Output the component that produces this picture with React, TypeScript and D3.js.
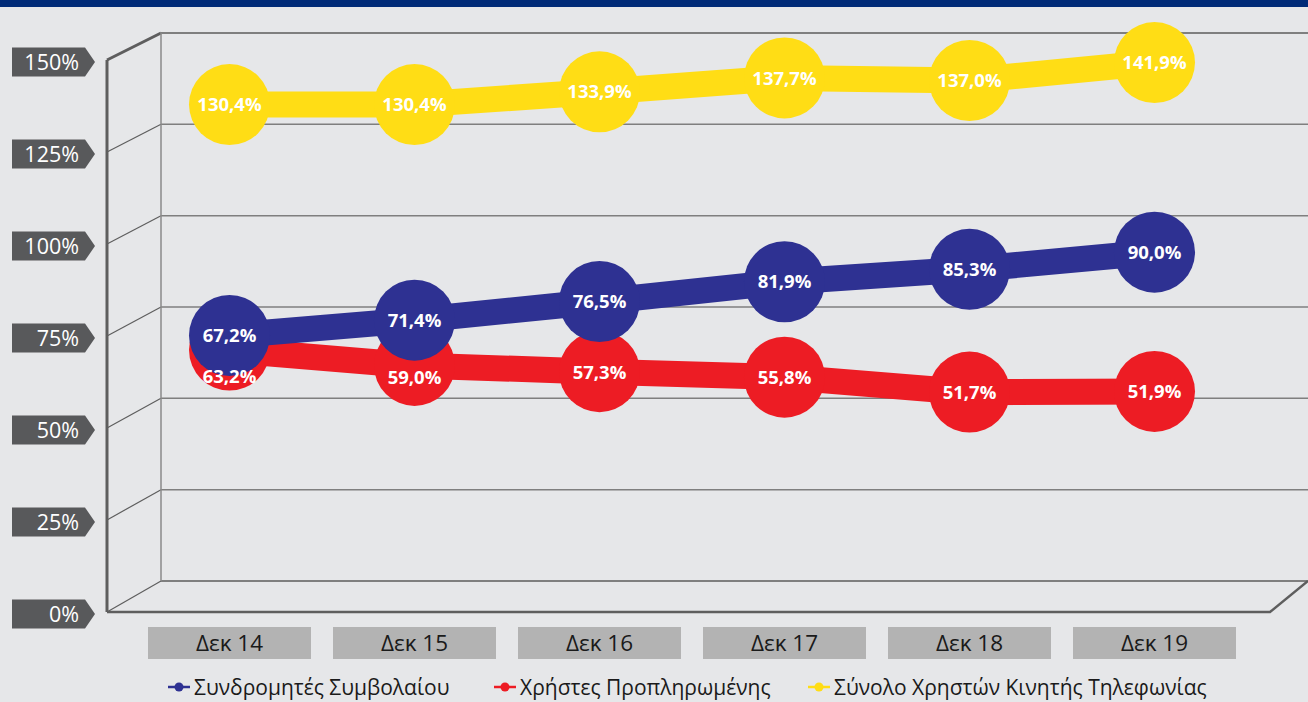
import * as d3 from 'd3';
import React, { useEffect, useRef } from 'react';

const categories = ['Δεκ 14', 'Δεκ 15', 'Δεκ 16', 'Δεκ 17', 'Δεκ 18', 'Δεκ 19'];
const contractValues = [67.2, 71.4, 76.5, 81.9, 85.3, 90.0];
const prepaidValues = [63.2, 59.0, 57.3, 55.8, 51.7, 51.9];
const totalValues = [130.4, 130.4, 133.9, 137.7, 137.0, 141.9];
const yTicks = [0, 25, 50, 75, 100, 125, 150];
const seriesNames = ['Συνδρομητές Συμβολαίου', 'Χρήστες Προπληρωμένης', 'Σύνολο Χρηστών Κινητής Τηλεφωνίας'];

const W = 1308;
const H = 702;
const FONT = '"Open Sans", "DejaVu Sans", sans-serif';

const fmt = (v: number) => d3.format('.1f')(v).replace('.', ',') + '%';

export default function App() {
  const ref = useRef<SVGSVGElement>(null);

  useEffect(() => {
    const svg = d3.select(ref.current);
    svg.selectAll('*').remove();

    // front edge of the box and back wall
    const frontX = 107, backX = 161;
    const yFront = d3.scaleLinear().domain([0, 150]).range([612, 60]);
    const yBack = d3.scaleLinear().domain([0, 150]).range([581, 33]);
    const x = d3.scaleBand<string>().domain(categories).range([137, 1247]);
    const cx = (c: string) => (x(c) as number) + x.bandwidth() / 2;

    svg.append('rect').attr('width', W).attr('height', H).attr('fill', '#e6e7e9');
    svg.append('rect').attr('width', W).attr('height', 7).attr('fill', '#002b78');

    // grid
    const grid = svg.append('g');
    yTicks.forEach(t => {
      grid.append('line')
        .attr('x1', frontX).attr('y1', yFront(t))
        .attr('x2', backX).attr('y2', yBack(t))
        .attr('stroke', '#5e5e5e')
        .attr('stroke-width', t === 150 ? 3 : 1.2);
      grid.append('line')
        .attr('x1', backX).attr('y1', yBack(t))
        .attr('x2', W).attr('y2', yBack(t))
        .attr('stroke', '#7f7f7f')
        .attr('stroke-width', t === 150 || t === 0 ? 2 : 1.5);
    });
    grid.append('line')
      .attr('x1', backX).attr('y1', yBack(150))
      .attr('x2', backX).attr('y2', yBack(0))
      .attr('stroke', '#8a8a8a').attr('stroke-width', 1.5);
    grid.append('line')
      .attr('x1', frontX).attr('y1', yFront(150))
      .attr('x2', frontX).attr('y2', yFront(0))
      .attr('stroke', '#5e5e5e').attr('stroke-width', 3);
    grid.append('polyline')
      .attr('points', `${frontX},${yFront(0)} 1270,${yFront(0)} 1308,${yBack(0)}`)
      .attr('fill', 'none')
      .attr('stroke', '#5e5e5e').attr('stroke-width', 2.5);

    // y labels
    const yl = svg.append('g');
    yTicks.forEach(t => {
      const cy = yFront(t) + 2;
      yl.append('path')
        .attr('d', `M12,${cy - 14.5} L85,${cy - 14.5} L95,${cy} L85,${cy + 14.5} L12,${cy + 14.5} Z`)
        .attr('fill', '#58595b');
      yl.append('text')
        .attr('x', 79).attr('y', cy)
        .attr('dy', '0.36em')
        .attr('text-anchor', 'end')
        .attr('fill', '#ffffff')
        .attr('font-family', FONT)
        .attr('font-size', 21.5)
        .text(t + '%');
    });

    // x labels
    const xl = svg.append('g');
    categories.forEach(c => {
      xl.append('rect')
        .attr('x', (x(c) as number) + 11).attr('y', 627)
        .attr('width', x.bandwidth() - 22).attr('height', 32)
        .attr('fill', '#b3b3b3');
      xl.append('text')
        .attr('x', cx(c)).attr('y', 643)
        .attr('dy', '0.36em')
        .attr('text-anchor', 'middle')
        .attr('fill', '#1a1a1a')
        .attr('font-family', FONT)
        .attr('font-size', 22.5)
        .text(c);
    });

    const line = d3.line<number>()
      .x((d, i) => cx(categories[i]))
      .y(d => yBack(d));

    const series = [
      { values: totalValues, color: '#ffdd15' },
      { values: prepaidValues, color: '#ed1c24' },
      { values: contractValues, color: '#2e3192' },
    ];

    const marks = svg.append('g');
    series.forEach(s => {
      marks.append('path')
        .attr('d', line(s.values) as string)
        .attr('fill', 'none')
        .attr('stroke', s.color)
        .attr('stroke-width', 26);
      marks.selectAll(null)
        .data(s.values)
        .enter().append('circle')
        .attr('cx', (d, i) => cx(categories[i]))
        .attr('cy', d => yBack(d))
        .attr('r', 40.5)
        .attr('fill', s.color);
    });

    // labels on top; red ones nudged down where the blue bubble sits on them
    const labels = svg.append('g')
      .attr('font-family', FONT)
      .attr('font-weight', 700)
      .attr('font-size', 18.5)
      .attr('fill', '#ffffff')
      .attr('text-anchor', 'middle');
    series.forEach(s => {
      labels.selectAll(null)
        .data(s.values)
        .enter().append('text')
        .attr('x', (d, i) => cx(categories[i]))
        .attr('y', (d, i) => {
          let y = yBack(d);
          if (s.values === prepaidValues) {
            const gap = y - yBack(contractValues[i]);
            y += Math.max(0, 33 - 0.46 * gap);
          }
          return y;
        })
        .attr('dy', '0.36em')
        .text(d => fmt(d));
    });

    // legend
    const legendX = [168, 494, 808];
    const legendColors = ['#2e3192', '#ed1c24', '#ffdd15'];
    const lg = svg.append('g');
    seriesNames.forEach((n, i) => {
      const g = lg.append('g').attr('transform', `translate(${legendX[i]},687)`);
      g.append('line').attr('x1', 0).attr('x2', 22)
        .attr('stroke', legendColors[i]).attr('stroke-width', 2.5);
      g.append('circle').attr('cx', 11).attr('r', 4.5).attr('fill', legendColors[i]);
      g.append('text')
        .attr('x', 26).attr('dy', '0.36em')
        .attr('fill', '#1a1a1a')
        .attr('font-family', FONT)
        .attr('font-size', 21)
        .text(n);
    });
  }, []);

  return (
    <svg ref={ref} width={W} height={H} style={{ position: 'absolute', left: 0, top: 0 }} />
  );
}
